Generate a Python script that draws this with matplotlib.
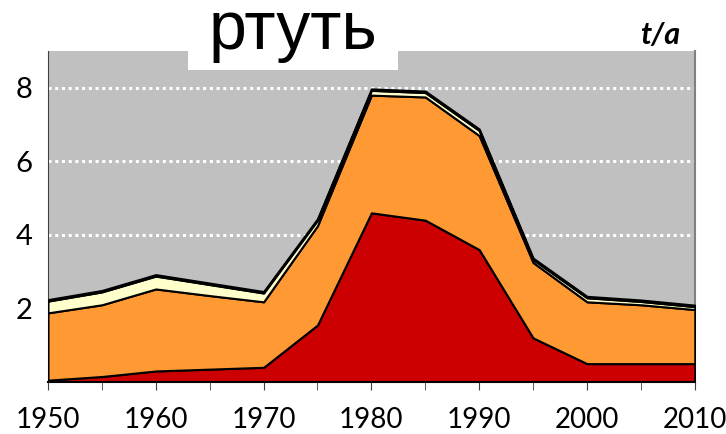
import matplotlib
matplotlib.use("Agg")
import numpy as np
from matplotlib import pyplot as plt
from matplotlib.patches import Rectangle

# данные (т/год), слои снизу вверх
years = [1950, 1955, 1960, 1965, 1970, 1975, 1980, 1985, 1990, 1995, 2000, 2005, 2010]
red = [0.05, 0.15, 0.30, 0.35, 0.40, 1.55, 4.60, 4.40, 3.60, 1.20, 0.50, 0.50, 0.50]
orange = [1.83, 1.95, 2.23, 2.00, 1.78, 2.70, 3.20, 3.35, 3.10, 2.05, 1.68, 1.60, 1.47]
yellow = [0.32, 0.35, 0.35, 0.30, 0.24, 0.15, 0.13, 0.12, 0.14, 0.08, 0.11, 0.09, 0.08]
black = [0.04, 0.04, 0.04, 0.04, 0.04, 0.04, 0.04, 0.04, 0.04, 0.04, 0.04, 0.04, 0.04]

colors = ["#CC0000", "#FF9933", "#FFFFCC", "#000000"]
xticklabels = [1950, 1960, 1970, 1980, 1990, 2000, 2010]
yticks = [2, 4, 6, 8]

plt.rcParams['font.family'] = ['Lato', 'DejaVu Sans']

fig = plt.figure(figsize=(7.26, 4.34), dpi=100)
ax = fig.add_axes([0.0661, 0.1198, 0.8909, 0.7627])
ax.set_facecolor("#C0C0C0")

ax.stackplot(years, red, orange, yellow, black, colors=colors,
             edgecolor="black", linewidth=1.5, zorder=3)

ax.set_xlim(1950, 2010)
ax.set_ylim(0, 9)
ax.set_yticks(yticks)
ax.set_yticklabels([str(v) for v in yticks], fontsize=21)
ax.set_xticks(xticklabels)
ax.set_xticklabels([str(v) for v in xticklabels], fontsize=20)
ax.set_xticks(years, minor=True)
ax.tick_params(axis="y", length=0, pad=11)
ax.tick_params(axis="x", which="both", length=6, direction="out", color="#404040", pad=12)

ax.grid(axis="y", color="white", linestyle=(0, (1, 1.2)), linewidth=2.2, zorder=1)
ax.set_axisbelow(True)

ax.spines["top"].set_visible(False)
ax.spines["right"].set_color("#808080")
ax.spines["right"].set_linewidth(1.5)
ax.spines["left"].set_color("#404040")
ax.spines["bottom"].set_color("black")
ax.spines["bottom"].set_linewidth(1.5)
ax.spines["bottom"].set_zorder(5)

# заголовок на белой плашке
fig.patches.append(Rectangle((188 / 726, 1 - 70 / 434), 210 / 726, 70 / 434,
                             transform=fig.transFigure, facecolor="white",
                             edgecolor="none", zorder=10))
fig.text(293 / 726, 1 - 49 / 434, "ртуть", ha="center", va="baseline",
         fontsize=49, family=["Liberation Sans", "DejaVu Sans"], zorder=11)
fig.text(680 / 726, 1 - 35 / 434, "t/a", ha="right", va="center",
         fontsize=22, fontweight="bold", fontstyle="italic", zorder=11)

fig.savefig("out.png", dpi=100)
